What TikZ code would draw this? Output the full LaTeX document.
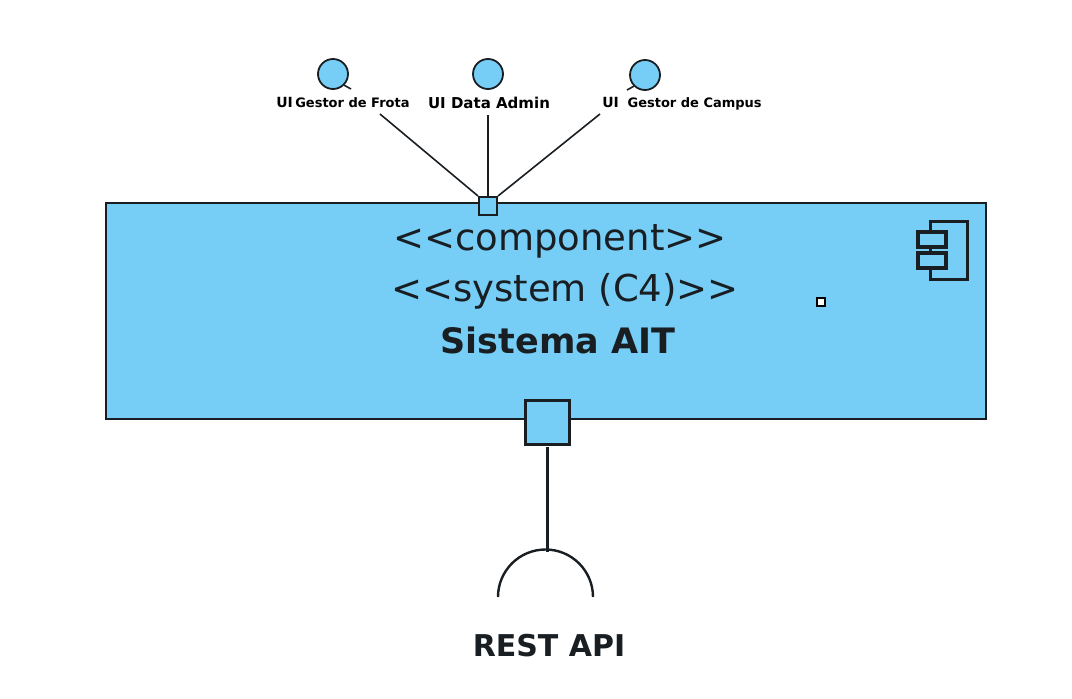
\documentclass[tikz,border=0pt]{standalone}
\usepackage{fontspec}
\setmainfont{DejaVu Sans}
\definecolor{compblue}{RGB}{118,205,245}
\definecolor{inkline}{RGB}{25,30,35}
\tikzset{
  portbox/.style={draw=inkline,fill=compblue,minimum size=#1,inner sep=0pt,line width=3pt},
  ifacecircle/.style={draw=inkline,fill=compblue,circle,minimum size=30pt,inner sep=0pt,line width=1.8pt},
  uilabel/.style={inner sep=0pt,text=black,font=\fontsize{14}{16}\selectfont\bfseries},
  wire/.style={draw=inkline,line width=1.6pt},
  stereotype/.style={inner sep=0pt,text=inkline,font=\fontsize{37}{42}\selectfont},
}
\begin{document}
\begin{tikzpicture}[x=1pt,y=-1pt]
  \useasboundingbox (0,0) rectangle (1072,699);
  \node[draw=inkline,fill=compblue,line width=2.6pt,minimum width=880pt,minimum height=216pt,inner sep=0pt] (sistema) at (546,311) {};
  % component icon
  \draw[inkline,line width=3pt] (930,232) -- (930,221) -- (967,221) -- (967,279) -- (930,279) -- (930,268);
  \draw[inkline,line width=3pt] (930,247) -- (930,253);
  \draw[inkline,line width=3.4pt] (918,232) rectangle (946,247);
  \draw[inkline,line width=3.4pt] (918,253) rectangle (946,268);
  \node[draw=black,fill=white,line width=2pt,minimum size=8pt,inner sep=0pt] (mark) at (820.5,302) {};
  % texts
  \node[stereotype] (comp) at (560,241) {<{}<component>{}>};
  \node[stereotype] (syst) at (565,291) {<{}<system (C4)>{}>};
  \node[stereotype,font=\fontsize{35}{40}\selectfont\bfseries] (nome) at (558,340) {Sistema AIT};
  % ports
  \node[portbox=18pt,line width=2pt] (portui) at (488,206) {};
  \node[portbox=44pt] (portapi) at (547.5,422) {};
  % interfaces
  \node[ifacecircle] (frota) at (333,74) {};
  \node[ifacecircle] (data) at (488,74) {};
  \node[ifacecircle] (campus) at (645,75) {};
  \draw[wire] (frota.-45) -- (351,89);
  \draw[wire] (campus.-135) -- (627,90);
  \node[uilabel] (lfrota) at (343,102) {UI\,{\fontsize{13}{15}\selectfont Gestor de Frota}};
  \node[uilabel,font=\fontsize{15}{17}\selectfont\bfseries] (ldata) at (489,103) {UI Data Admin};
  \node[uilabel] (lcampus) at (682,104) {UI\; {\fontsize{13}{15}\selectfont Gestor de Campus}};
  \coordinate (wfrota) at (380,114);
  \coordinate (wdata) at (488,115);
  \coordinate (wcampus) at (600,114);
  \draw[wire] (wfrota) -- (portui.north west);
  \draw[wire,line width=1.1pt] (wdata) -- (portui.north);
  \draw[wire] (wcampus) -- (portui.north east);
  % required interface
  \coordinate (arctop) at (547.5,552);
  \coordinate (wapi) at (547.5,447);
  \draw[wire,line width=2.8pt] (wapi) -- (arctop);
  \draw[wire,line width=2.4pt] (498,597) arc[start angle=180,end angle=0,radius=47.5pt];
  \node[inner sep=0pt,text=inkline,font=\fontsize{30}{36}\selectfont\bfseries] (lapi) at (549,646) {REST API};
\end{tikzpicture}
\end{document}
